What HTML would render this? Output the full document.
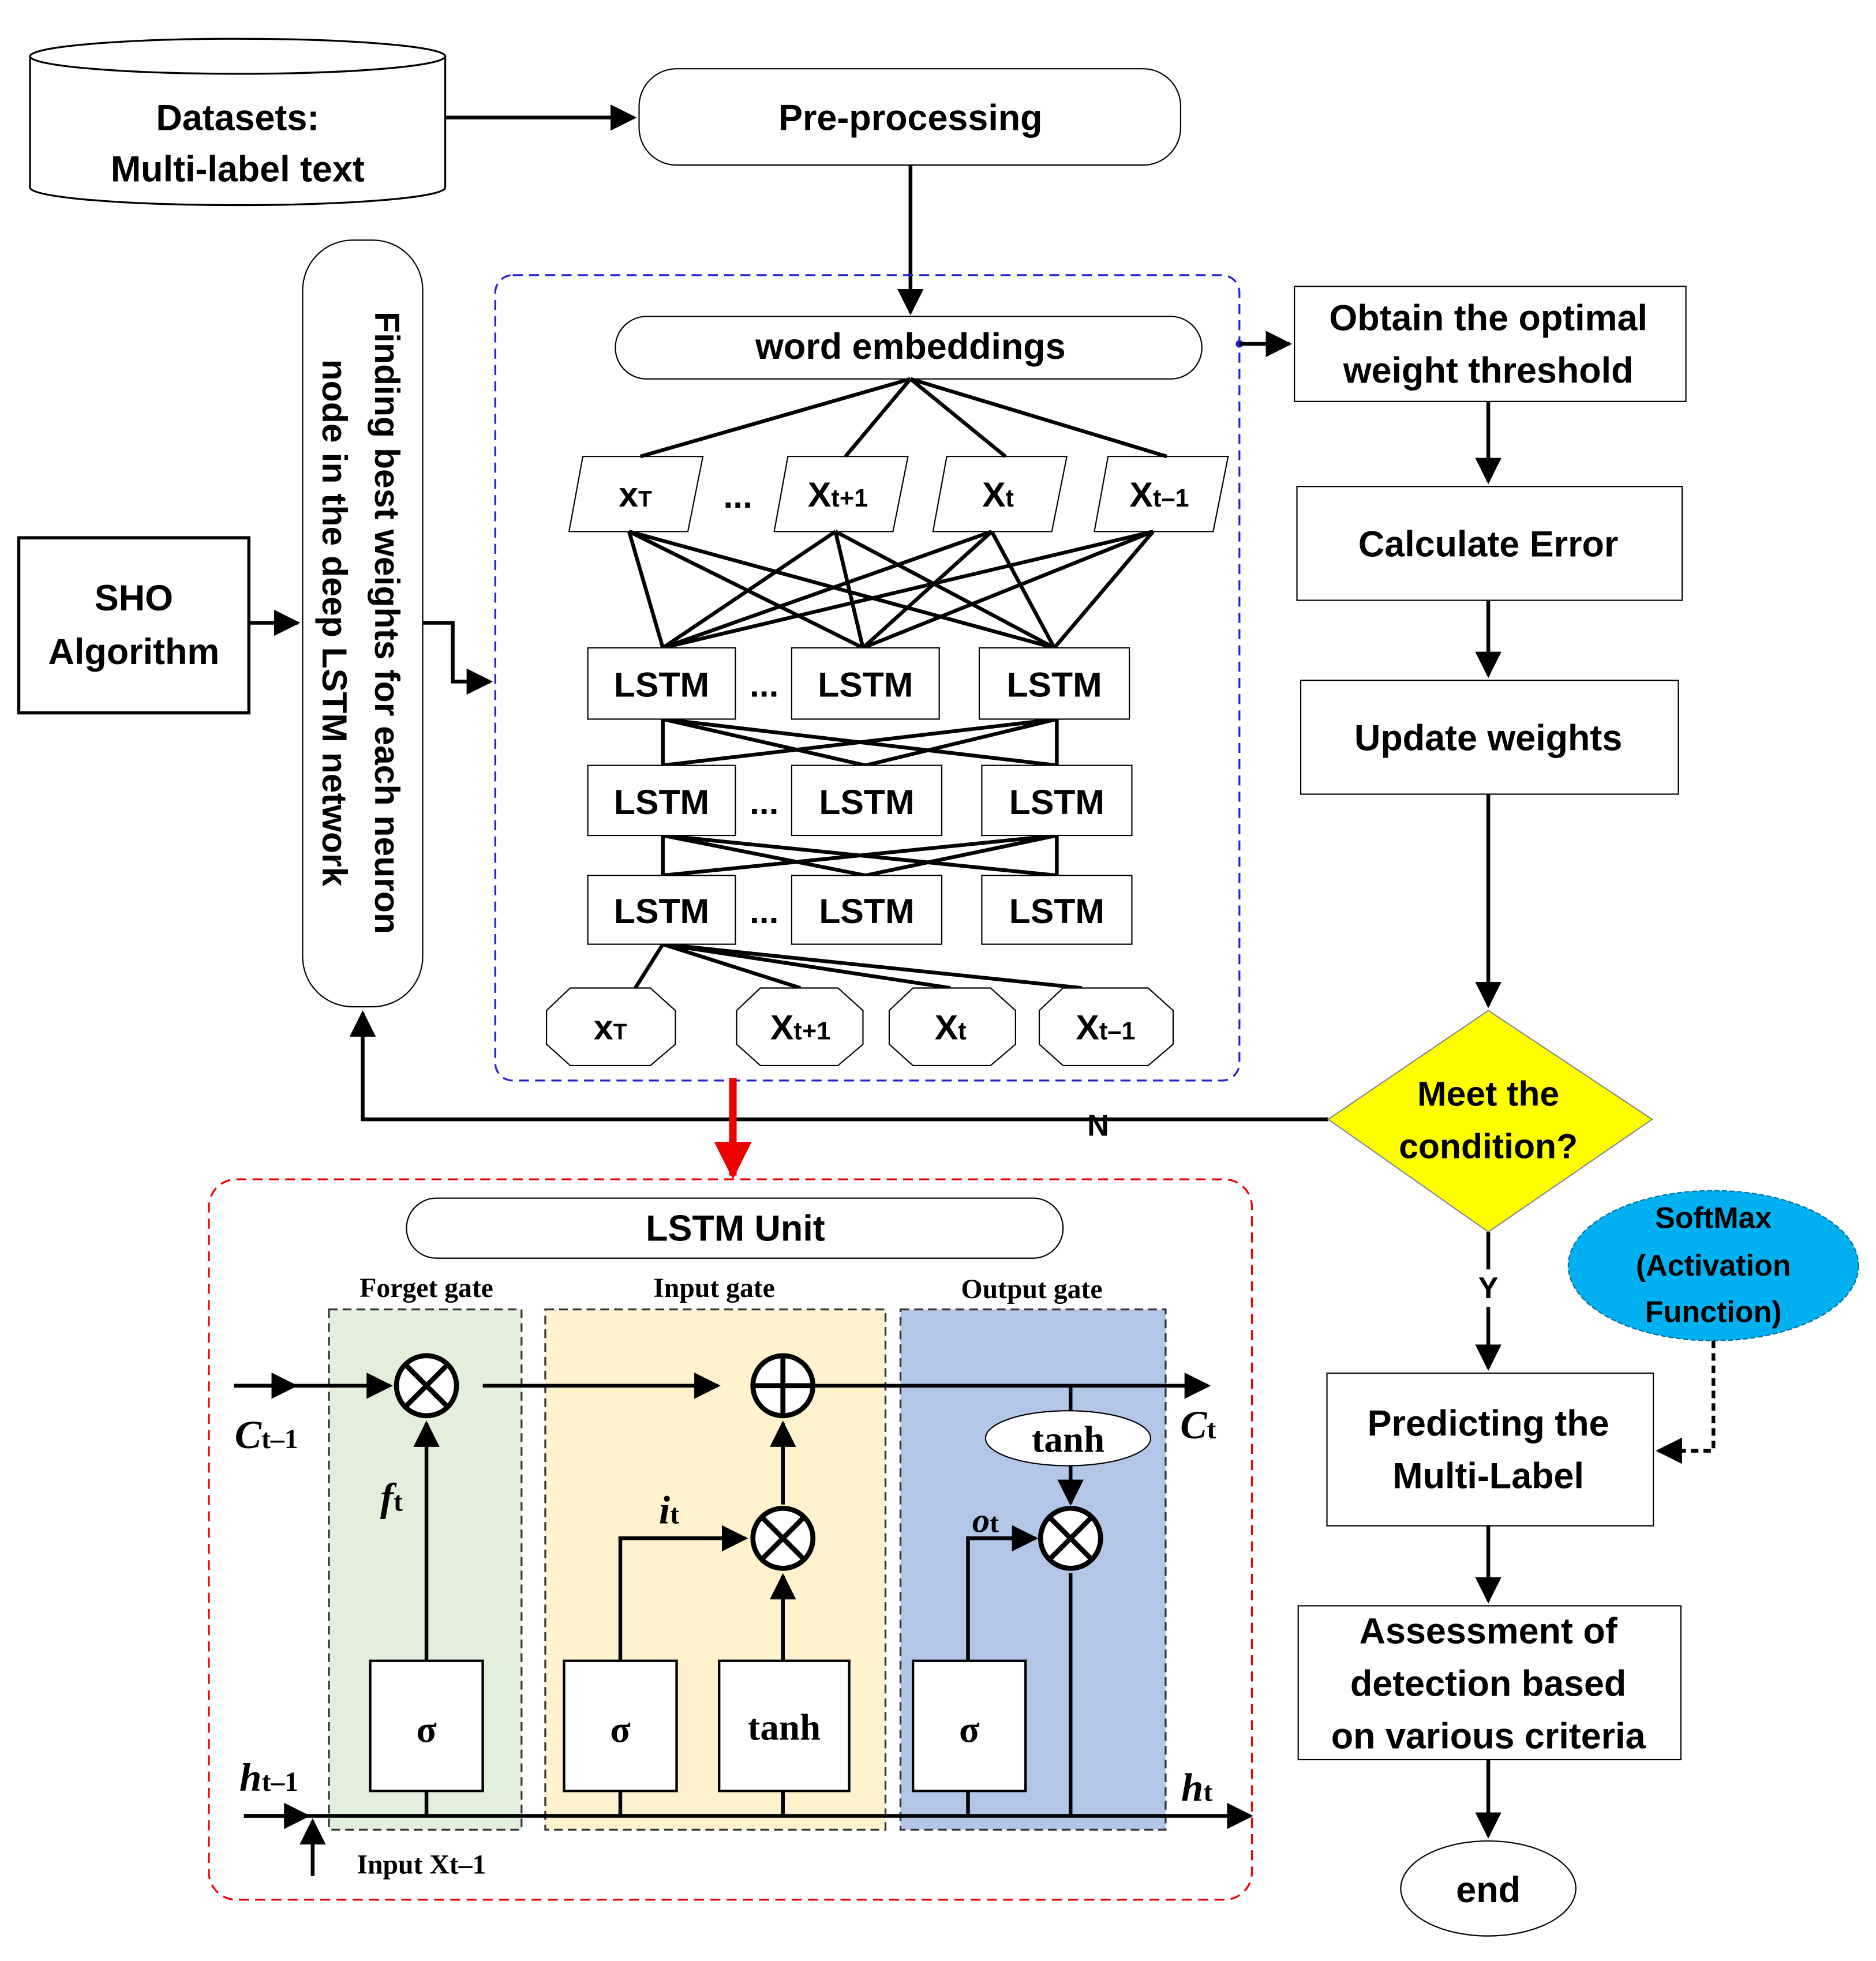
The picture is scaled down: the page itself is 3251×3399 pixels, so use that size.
<!DOCTYPE html>
<html><head><meta charset="utf-8"><style>html,body{margin:0;padding:0;background:#fff}svg{display:block}</style></head><body>
<svg width="3251" height="3399" viewBox="0 0 1500 1568" preserveAspectRatio="none" xmlns="http://www.w3.org/2000/svg" font-family="Liberation Sans, sans-serif">
<defs>
<marker id="a" viewBox="0 0 10 10" refX="9" refY="5" markerWidth="7" markerHeight="7" orient="auto"><path d="M0,0 L10,5 L0,10 z" fill="#000"/></marker>
<marker id="r" viewBox="0 0 10 10" refX="9" refY="5" markerWidth="5" markerHeight="5" orient="auto"><path d="M0,0 L10,5 L0,10 z" fill="#e00"/></marker>
</defs>
<g stroke="#000" stroke-width="2" fill="none">
<!-- cylinder -->
<path d="M24,45 L24,150 A166,14 0 0 0 356,150 L356,45" fill="#fff" stroke-width="1.5"/>
<ellipse cx="190" cy="45" rx="166" ry="14" fill="#fff" stroke-width="1.5"/>
<rect x="511" y="55" width="433" height="77" rx="30" fill="#fff" stroke-width="1"/>
<line x1="356" y1="94" x2="507" y2="94" marker-end="url(#a)" stroke-width="3"/>
<line x1="728" y1="132" x2="728" y2="250" marker-end="url(#a)" stroke-width="3"/>
<rect x="396" y="220" width="595" height="644" rx="14" stroke="#22c" stroke-dasharray="8,5" stroke-width="1.5"/>
<rect x="492" y="253" width="469" height="50" rx="25" stroke-width="1" fill="#fff"/>
<!-- SHO -->
<rect x="15" y="430" width="184" height="140" stroke-width="2.5"/>
<line x1="199" y1="498" x2="238" y2="498" marker-end="url(#a)" stroke-width="3"/>
<rect x="242" y="192" width="96" height="613" rx="40" stroke-width="1"/>
<path d="M338,498 L362,498 L362,545 L392,545" marker-end="url(#a)" stroke-width="3"/>
<!-- parallelograms -->
<g stroke-width="1">
<polygon points="466,365 562,365 550,425 455,425" fill="#fff"/>
<polygon points="630,365 726,365 714,425 619,425" fill="#fff"/>
<polygon points="757,365 853,365 841,425 746,425" fill="#fff"/>
<polygon points="886,365 982,365 970,425 875,425" fill="#fff"/>
</g>
<g stroke-width="3">
<path d="M728,303 L512,365 M728,303 L676,365 M728,303 L804,365 M728,303 L933,365"/>
<path d="M503,425 L530,518 M503,425 L690,518 M503,425 L843,518 M668,425 L530,518 M668,425 L690,518 M668,425 L843,518 M793,425 L530,518 M793,425 L690,518 M793,425 L843,518 M922,425 L530,518 M922,425 L690,518 M922,425 L843,518"/>
<path d="M530,575 L530,612 M845,575 L845,612 M530,575 L845,612 M845,575 L530,612 M530,575 L692,612 M845,575 L692,612"/>
<path d="M530,668 L530,700 M845,668 L845,700 M530,668 L845,700 M845,668 L530,700 M530,668 L692,700 M845,668 L692,700"/>
<path d="M530,755 L508,790 M530,755 L640,790 M530,755 L760,790 M530,755 L865,790"/>
</g>
<g stroke-width="1" fill="#fff">
<rect x="470" y="518" width="118" height="57"/><rect x="633" y="518" width="118" height="57"/><rect x="783" y="518" width="120" height="57"/>
<rect x="470" y="612" width="118" height="56"/><rect x="633" y="612" width="120" height="56"/><rect x="785" y="612" width="120" height="56"/>
<rect x="470" y="700" width="118" height="55"/><rect x="633" y="700" width="120" height="55"/><rect x="785" y="700" width="120" height="55"/>
<polygon points="456,790 520,790 540,808 540,835 520,852 456,852 437,835 437,808"/>
<polygon points="608,790 670,790 690,808 690,835 670,852 608,852 589,835 589,808"/>
<polygon points="730,790 792,790 812,808 812,835 792,852 730,852 711,835 711,808"/>
<polygon points="850,790 918,790 938,808 938,835 918,852 850,852 831,835 831,808"/>
</g>
<!-- right column -->
<circle cx="991" cy="275" r="3" fill="#22c" stroke="none"/>
<line x1="991" y1="275" x2="1031" y2="275" marker-end="url(#a)" stroke-width="3"/>
<g stroke-width="1" fill="#fff">
<rect x="1035" y="229" width="313" height="92"/>
<rect x="1037" y="389" width="308" height="91"/>
<rect x="1040" y="544" width="302" height="91"/>
<rect x="1061" y="1098" width="261" height="122"/>
<rect x="1038" y="1284" width="306" height="123"/>
<ellipse cx="1190" cy="1510" rx="70" ry="38"/>
</g>
<g stroke-width="3">
<line x1="1190" y1="321" x2="1190" y2="385" marker-end="url(#a)"/>
<line x1="1190" y1="480" x2="1190" y2="540" marker-end="url(#a)"/>
<line x1="1190" y1="635" x2="1190" y2="804" marker-end="url(#a)"/>
<line x1="1190" y1="985" x2="1190" y2="1015"/>
<line x1="1190" y1="1045" x2="1190" y2="1094" marker-end="url(#a)"/>
<line x1="1190" y1="1220" x2="1190" y2="1280" marker-end="url(#a)"/>
<line x1="1190" y1="1407" x2="1190" y2="1468" marker-end="url(#a)"/>
<path d="M1062,895 L290,895 L290,810" marker-end="url(#a)"/>
</g>
<polygon points="1190,808 1321,895 1190,985 1062,895" fill="#ff0" stroke="#888" stroke-width="1"/>
<ellipse cx="1370" cy="1012" rx="116" ry="60" fill="#00b0f0" stroke="#0070a0" stroke-width="1" stroke-dasharray="4,2"/>
<path d="M1370,1072 L1370,1160 L1326,1160" stroke-width="3" stroke-dasharray="6,4" marker-end="url(#a)"/>
<!-- red arrow -->
<line x1="586" y1="862" x2="586" y2="940" stroke="#e00" stroke-width="6" marker-end="url(#r)"/>
<!-- LSTM unit -->
<rect x="167" y="943" width="834" height="576" rx="22" stroke="#e00" stroke-dasharray="8,5" stroke-width="1.5"/>
<rect x="325" y="958" width="525" height="48" rx="24" stroke-width="1"/>
<rect x="263" y="1047" width="154" height="416" fill="#e2efda" stroke="#333" stroke-width="1.5" stroke-dasharray="7,4"/>
<rect x="436" y="1047" width="272" height="416" fill="#fff2cc" stroke="#333" stroke-width="1.5" stroke-dasharray="7,4"/>
<rect x="720" y="1047" width="212" height="416" fill="#b4c6e7" stroke="#333" stroke-width="1.5" stroke-dasharray="7,4"/>
<g stroke-width="3">
<line x1="187" y1="1108" x2="312" y2="1108" marker-end="url(#a)"/>
<line x1="187" y1="1108" x2="236" y2="1108" marker-end="url(#a)"/>
<line x1="386" y1="1108" x2="574" y2="1108" marker-end="url(#a)"/>
<line x1="652" y1="1108" x2="966" y2="1108" marker-end="url(#a)"/>
<line x1="195" y1="1452" x2="1000" y2="1452" marker-end="url(#a)"/>
<line x1="195" y1="1452" x2="246" y2="1452" marker-end="url(#a)"/>
<line x1="250" y1="1500" x2="250" y2="1456" marker-end="url(#a)"/>
<line x1="341" y1="1328" x2="341" y2="1138" marker-end="url(#a)"/>
<line x1="341" y1="1432" x2="341" y2="1452"/>
<path d="M496,1328 L496,1230 L596,1230" marker-end="url(#a)"/>
<line x1="496" y1="1432" x2="496" y2="1452"/>
<line x1="626" y1="1328" x2="626" y2="1260" marker-end="url(#a)"/>
<line x1="626" y1="1432" x2="626" y2="1452"/>
<line x1="626" y1="1203" x2="626" y2="1138" marker-end="url(#a)"/>
<path d="M774,1328 L774,1230 L828,1230" marker-end="url(#a)"/>
<line x1="774" y1="1432" x2="774" y2="1452"/>
<line x1="856" y1="1108" x2="856" y2="1128"/>
<line x1="856" y1="1172" x2="856" y2="1202" marker-end="url(#a)"/>
<line x1="856" y1="1258" x2="856" y2="1452"/>
</g>
<g stroke-width="4" fill="#fff">
<circle cx="341" cy="1108" r="24"/><path d="M324,1091 L358,1125 M358,1091 L324,1125"/>
<circle cx="626" cy="1108" r="24"/><path d="M602,1108 L650,1108 M626,1084 L626,1132"/>
<circle cx="626" cy="1230" r="24"/><path d="M609,1213 L643,1247 M643,1213 L609,1247"/>
<circle cx="856" cy="1230" r="24"/><path d="M839,1213 L873,1247 M873,1213 L839,1247"/>
</g>
<g stroke-width="2" fill="#fff">
<rect x="296" y="1328" width="90" height="104"/>
<rect x="451" y="1328" width="90" height="104"/>
<rect x="575" y="1328" width="104" height="104"/>
<rect x="730" y="1328" width="90" height="104"/>
<ellipse cx="854" cy="1150" rx="66" ry="22" stroke-width="1"/>
</g>
</g>
<g font-weight="bold" font-size="29" text-anchor="middle" fill="#000">
<text x="190" y="104">Datasets:</text><text x="190" y="145">Multi-label text</text>
<text x="728" y="104">Pre-processing</text>
<text x="728" y="287">word embeddings</text>
<text x="107" y="488">SHO</text><text x="107" y="531">Algorithm</text>
<text x="1190" y="264">Obtain the optimal</text><text x="1190" y="306">weight threshold</text>
<text x="1190" y="445">Calculate Error</text>
<text x="1190" y="600">Update weights</text>
<text x="1190" y="884" font-size="28">Meet the</text><text x="1190" y="926" font-size="28">condition?</text>
<text x="1370" y="982" font-size="24">SoftMax</text><text x="1370" y="1020" font-size="24">(Activation</text><text x="1370" y="1057" font-size="24">Function)</text>
<text x="1190" y="1148">Predicting the</text><text x="1190" y="1190">Multi-Label</text>
<text x="1190" y="1314">Assessment of</text><text x="1190" y="1356">detection based</text><text x="1190" y="1398">on various criteria</text>
<text x="1190" y="1521">end</text>
<text x="878" y="908" font-size="24">N</text>
<text x="1190" y="1038" font-size="24">Y</text>
<text x="588" y="992">LSTM Unit</text>
<g font-size="28">
<text x="529" y="557">LSTM</text><text x="692" y="557">LSTM</text><text x="843" y="557">LSTM</text>
<text x="529" y="651">LSTM</text><text x="693" y="651">LSTM</text><text x="845" y="651">LSTM</text>
<text x="529" y="738">LSTM</text><text x="693" y="738">LSTM</text><text x="845" y="738">LSTM</text>
<text x="611" y="557">...</text><text x="611" y="651">...</text><text x="611" y="738">...</text>
<text x="590" y="406">...</text>
<text x="508" y="405">x<tspan font-size="18">T</tspan></text>
<text x="670" y="405">X<tspan font-size="20">t+1</tspan></text>
<text x="798" y="405">X<tspan font-size="20">t</tspan></text>
<text x="927" y="405">X<tspan font-size="20">t–1</tspan></text>
<text x="488" y="831">x<tspan font-size="18">T</tspan></text>
<text x="640" y="831">X<tspan font-size="20">t+1</tspan></text>
<text x="760" y="831">X<tspan font-size="20">t</tspan></text>
<text x="884" y="831">X<tspan font-size="20">t–1</tspan></text>
</g>
<text transform="translate(300,498) rotate(90)" font-size="28">Finding best weights for each neuron</text>
<text transform="translate(258,498) rotate(90)" font-size="28">node in the deep LSTM network</text>
</g>
<g font-family="Liberation Serif, serif" font-weight="bold" fill="#000" text-anchor="middle">
<text x="341" y="1037" font-size="22">Forget gate</text>
<text x="571" y="1037" font-size="22">Input gate</text>
<text x="825" y="1038" font-size="22">Output gate</text>
<text x="341" y="1393" font-size="30">σ</text><text x="496" y="1393" font-size="30">σ</text><text x="775" y="1393" font-size="30">σ</text>
<text x="627" y="1391" font-size="30">tanh</text>
<text x="854" y="1161" font-size="30">tanh</text>
<text x="213" y="1158" font-size="32" font-style="italic">C<tspan font-size="22" font-style="normal">t–1</tspan></text>
<text x="958" y="1150" font-size="32" font-style="italic">C<tspan font-size="22" font-style="normal">t</tspan></text>
<text x="215" y="1432" font-size="32" font-style="italic">h<tspan font-size="22" font-style="normal">t–1</tspan></text>
<text x="957" y="1440" font-size="32" font-style="italic">h<tspan font-size="22" font-style="normal">t</tspan></text>
<text x="313" y="1208" font-size="32" font-style="italic">f<tspan font-size="22" font-style="normal">t</tspan></text>
<text x="535" y="1218" font-size="32" font-style="italic">i<tspan font-size="22" font-style="normal">t</tspan></text>
<text x="788" y="1225" font-size="28" font-style="italic">o<tspan font-size="22" font-style="normal">t</tspan></text>
<text x="337" y="1498" font-size="22">Input Xt–1</text>
</g>
</svg>
</body></html>
